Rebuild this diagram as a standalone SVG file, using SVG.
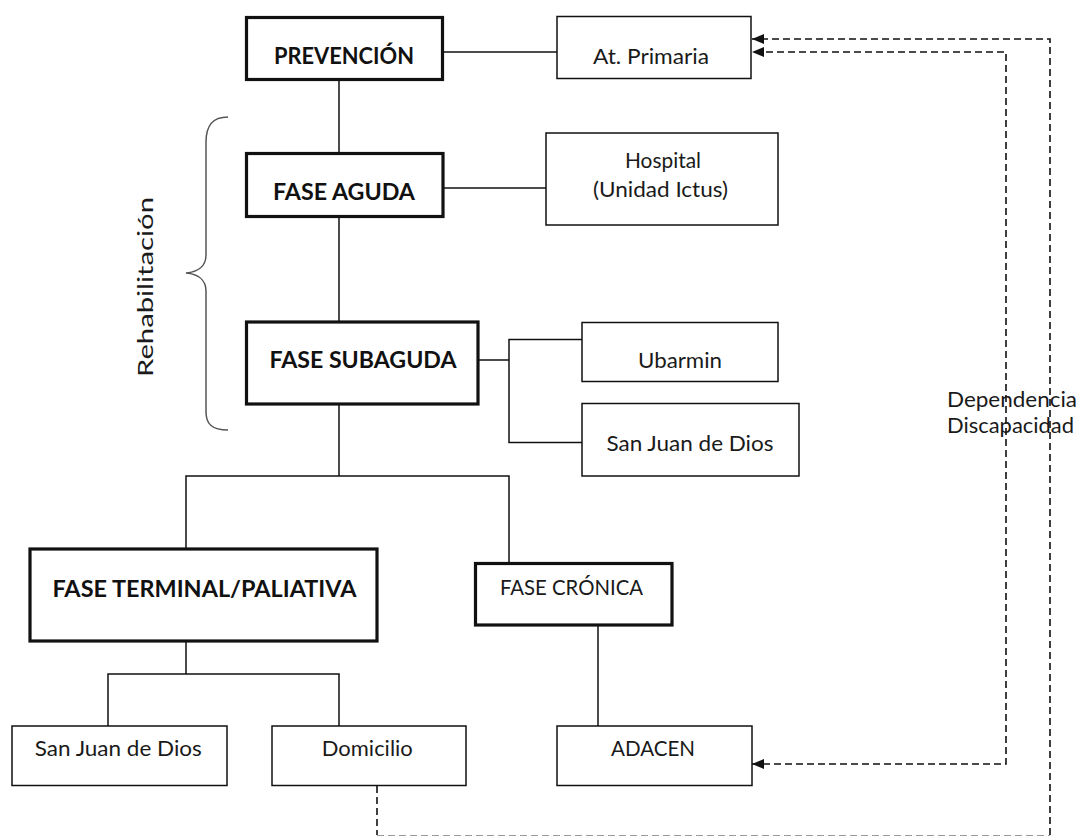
<svg xmlns="http://www.w3.org/2000/svg" width="1082" height="837" viewBox="0 0 1082 837">
  <defs>
    <marker id="arrow" viewBox="0 0 12 10" refX="12" refY="5" markerWidth="12" markerHeight="10" markerUnits="userSpaceOnUse" orient="auto-start-reverse">
      <path d="M0,0 L12,5 L0,10 z" fill="#111"/>
    </marker>
    <style>
      .box { fill: #fff; stroke: #111; stroke-width: 1.5; }
      .box.thick { stroke-width: 3.2; }
      .lbl { font-family: Lato, "Liberation Sans", sans-serif; font-size: 21px; fill: #1a1a1a; text-anchor: middle; }
      .lbl.b { font-weight: bold; font-size: 22px; fill: #111; }
      .link { fill: none; stroke: #111; stroke-width: 1.5; }
      .dash { fill: none; stroke: #111; stroke-width: 1.6; stroke-dasharray: 7 4; }
      .note { font-family: Lato, "Liberation Sans", sans-serif; font-size: 21px; fill: #1a1a1a; }
    </style>
  </defs>

  <rect width="1082" height="837" fill="#fff"/>

  <!-- connectors -->
  <g id="connectors">
    <line class="link" x1="443" y1="52" x2="557" y2="52"/>
    <line class="link" x1="339" y1="79" x2="339" y2="154"/>
    <line class="link" x1="443" y1="188" x2="546" y2="188"/>
    <line class="link" x1="339" y1="217" x2="339" y2="322"/>
    <path class="link" d="M478,360 H509 M582,339.5 H509 V442.5 H582"/>
    <path class="link" d="M339,404 V476 M186,548 V476 H509 V563"/>
    <path class="link" d="M186,641 V674 M108,726 V674 H339 V726"/>
    <line class="link" x1="598" y1="625" x2="598" y2="726"/>
    <!-- dependency / disability feedback -->
    <path class="dash" d="M752,764 H1006 V52 H752" marker-start="url(#arrow)" marker-end="url(#arrow)"/>
    <path class="dash" d="M377,786 V835 M1050,835 V39 H752" marker-end="url(#arrow)"/>
    <line x1="377" y1="835.5" x2="1050" y2="835.5" stroke="#9a9a9a" stroke-width="1.2" stroke-dasharray="7 4"/>
  </g>

  <!-- rehabilitation brace -->
  <g id="rehabilitacion">
    <path d="M228,117 C212,117 206,126 206,142 L206,255 C206,266 198,272 186,273 C198,274 206,280 206,291 L206,412 C206,424 212,430 228,430" fill="none" stroke="#555" stroke-width="1.5"/>
    <text class="note" transform="translate(153,287) rotate(-90)" text-anchor="middle" font-size="25" fill="#333" textLength="180" lengthAdjust="spacingAndGlyphs">Rehabilitación</text>
  </g>

  <g id="prevencion">
    <rect class="box thick" x="246.5" y="17.5" width="196" height="62"/>
    <text class="lbl b" x="344" y="64" textLength="140" lengthAdjust="spacingAndGlyphs">PREVENCIÓN</text>
  </g>
  <g id="at-primaria">
    <rect class="box" x="557" y="16.5" width="194" height="62"/>
    <text class="lbl" x="651" y="64" textLength="116" lengthAdjust="spacingAndGlyphs">At. Primaria</text>
  </g>
  <g id="fase-aguda">
    <rect class="box thick" x="246.5" y="153.5" width="196.5" height="63"/>
    <text class="lbl b" x="344" y="200" textLength="142" lengthAdjust="spacingAndGlyphs">FASE AGUDA</text>
  </g>
  <g id="hospital">
    <rect class="box" x="546" y="133" width="232" height="92"/>
    <text class="lbl" x="663" y="168" textLength="76" lengthAdjust="spacingAndGlyphs">Hospital</text>
    <text class="lbl" x="660.5" y="197" textLength="135" lengthAdjust="spacingAndGlyphs">(Unidad Ictus)</text>
  </g>
  <g id="fase-subaguda">
    <rect class="box thick" x="246.5" y="322" width="231.5" height="82"/>
    <text class="lbl b" x="363" y="368" textLength="187" lengthAdjust="spacingAndGlyphs">FASE SUBAGUDA</text>
  </g>
  <g id="ubarmin">
    <rect class="box" x="582" y="322.5" width="196" height="59"/>
    <text class="lbl" x="680" y="368" textLength="84" lengthAdjust="spacingAndGlyphs">Ubarmin</text>
  </g>
  <g id="san-juan-subaguda">
    <rect class="box" x="582" y="403.5" width="217" height="72.5"/>
    <text class="lbl" x="690" y="451" textLength="167" lengthAdjust="spacingAndGlyphs">San Juan de Dios</text>
  </g>
  <g id="fase-terminal">
    <rect class="box thick" x="30" y="549" width="347" height="92"/>
    <text class="lbl b" x="204.5" y="597" textLength="304" lengthAdjust="spacingAndGlyphs">FASE TERMINAL/PALIATIVA</text>
  </g>
  <g id="fase-cronica">
    <rect class="box thick" x="475.5" y="563.5" width="196.5" height="61.5"/>
    <text class="lbl" x="571.5" y="595" textLength="143" lengthAdjust="spacingAndGlyphs">FASE CRÓNICA</text>
  </g>
  <g id="san-juan-terminal">
    <rect class="box" x="12" y="726" width="215" height="59.5"/>
    <text class="lbl" x="118.3" y="756" textLength="167" lengthAdjust="spacingAndGlyphs">San Juan de Dios</text>
  </g>
  <g id="domicilio">
    <rect class="box" x="272" y="726" width="194" height="59.5"/>
    <text class="lbl" x="367.3" y="756" textLength="91" lengthAdjust="spacingAndGlyphs">Domicilio</text>
  </g>
  <g id="adacen">
    <rect class="box" x="557" y="726" width="195" height="59.5"/>
    <text class="lbl" x="653" y="756" textLength="84" lengthAdjust="spacingAndGlyphs">ADACEN</text>
  </g>

  <g id="dependencia">
    <text class="note" x="947" y="407" textLength="130" lengthAdjust="spacingAndGlyphs">Dependencia</text>
    <text class="note" x="947" y="433" textLength="127" lengthAdjust="spacingAndGlyphs">Discapacidad</text>
  </g>
</svg>
